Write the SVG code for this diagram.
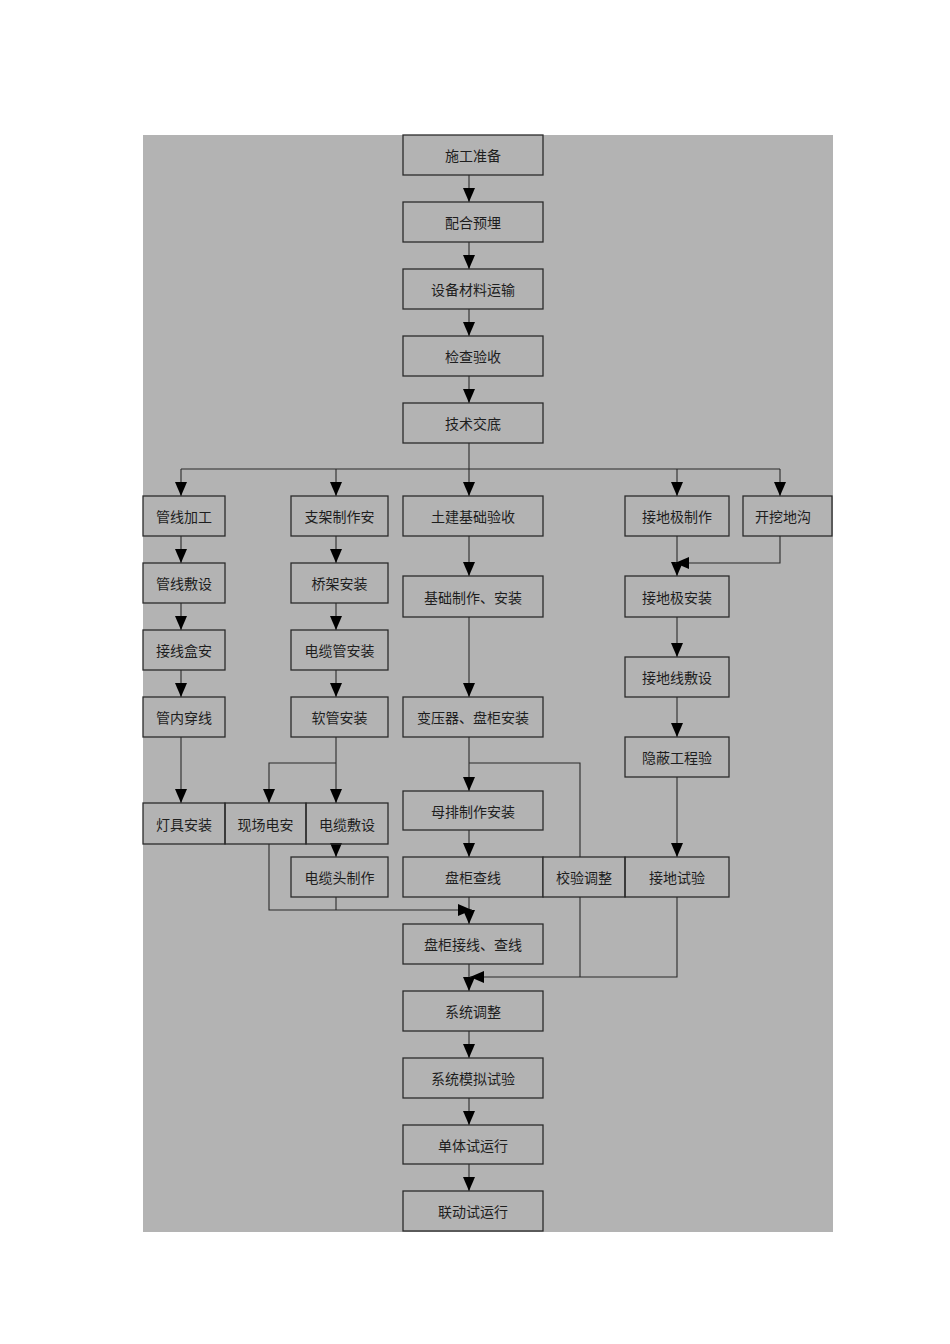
<svg xmlns="http://www.w3.org/2000/svg" width="950" height="1344" viewBox="0 0 950 1344">
<defs>
<marker id="arr" viewBox="0 0 14 12" refX="14" refY="6" markerWidth="14" markerHeight="12" markerUnits="userSpaceOnUse" orient="auto">
<path d="M0 0 L14 6 L0 12 Z" fill="#000"/>
</marker>
<style>
.b{fill:none;stroke:#2b2b2b;stroke-width:1.3}
.t{font-family:"Noto Sans CJK SC","Liberation Sans",sans-serif;font-size:14px;fill:#1e1e1e;text-anchor:middle;dominant-baseline:central}
.c path{fill:none;stroke:#2b2b2b;stroke-width:1.1}
.a{marker-end:url(#arr)}
</style>
</defs>
<rect x="0" y="0" width="950" height="1344" fill="#fff"/>
<rect x="143" y="135" width="690" height="1097" fill="#b3b3b3"/>
<g class="c" id="connectors">
<path class="a" d="M469 175V202"/>
<path class="a" d="M469 242V269"/>
<path class="a" d="M469 309V336"/>
<path class="a" d="M469 376V403"/>
<path d="M469 443V469M181 469H780"/>
<path class="a" d="M181 469V496"/>
<path class="a" d="M336 469V496"/>
<path class="a" d="M469 469V496"/>
<path class="a" d="M677 469V496"/>
<path class="a" d="M780 469V496"/>
<path class="a" d="M181 536V563"/>
<path class="a" d="M181 603V630"/>
<path class="a" d="M181 670V697"/>
<path class="a" d="M181 737V803"/>
<path class="a" d="M336 536V563"/>
<path class="a" d="M336 603V630"/>
<path class="a" d="M336 670V697"/>
<path class="a" d="M336 737V803"/>
<path class="a" d="M336 763H269V803"/>
<path class="a" d="M336 844V857"/>
<path class="a" d="M469 536V576"/>
<path class="a" d="M469 617V697"/>
<path class="a" d="M469 737V791"/>
<path d="M469 763H580V857"/>
<path class="a" d="M469 830V857"/>
<path class="a" d="M469 897V924"/>
<path class="a" d="M269 844V910H472"/>
<path d="M336 897V910"/>
<path class="a" d="M469 964V991"/>
<path d="M580 897V977"/>
<path class="a" d="M677 897V977H470"/>
<path class="a" d="M469 1031V1058"/>
<path class="a" d="M469 1098V1125"/>
<path class="a" d="M469 1164V1191"/>
<path class="a" d="M677 536V576"/>
<path class="a" d="M780 536V563H675"/>
<path class="a" d="M677 617V657"/>
<path class="a" d="M677 697V737"/>
<path class="a" d="M677 777V857"/>
</g>
<g id="n1"><rect class="b" x="403" y="135" width="140" height="40"/><text class="t" x="473" y="155">施工准备</text></g>
<g id="n2"><rect class="b" x="403" y="202" width="140" height="40"/><text class="t" x="473" y="222">配合预埋</text></g>
<g id="n3"><rect class="b" x="403" y="269" width="140" height="40"/><text class="t" x="473" y="289">设备材料运输</text></g>
<g id="n4"><rect class="b" x="403" y="336" width="140" height="40"/><text class="t" x="473" y="356">检查验收</text></g>
<g id="n5"><rect class="b" x="403" y="403" width="140" height="40"/><text class="t" x="473" y="423">技术交底</text></g>
<g id="n6"><rect class="b" x="143" y="496" width="82" height="40"/><text class="t" x="184" y="516">管线加工</text></g>
<g id="n7"><rect class="b" x="291" y="496" width="97" height="40"/><text class="t" x="339.5" y="516">支架制作安</text></g>
<g id="n8"><rect class="b" x="403" y="496" width="140" height="40"/><text class="t" x="473" y="516">土建基础验收</text></g>
<g id="n9"><rect class="b" x="625" y="496" width="104" height="40"/><text class="t" x="677" y="516">接地极制作</text></g>
<g id="n10"><rect class="b" x="743" y="496" width="89" height="40"/><text class="t" x="783" y="516">开挖地沟</text></g>
<g id="n11"><rect class="b" x="143" y="563" width="82" height="40"/><text class="t" x="184" y="583">管线敷设</text></g>
<g id="n12"><rect class="b" x="291" y="563" width="97" height="40"/><text class="t" x="339.5" y="583">桥架安装</text></g>
<g id="n13"><rect class="b" x="403" y="576" width="140" height="41"/><text class="t" x="473" y="596.5">基础制作、安装</text></g>
<g id="n14"><rect class="b" x="625" y="576" width="104" height="41"/><text class="t" x="677" y="596.5">接地极安装</text></g>
<g id="n15"><rect class="b" x="143" y="630" width="82" height="40"/><text class="t" x="184" y="650">接线盒安</text></g>
<g id="n16"><rect class="b" x="291" y="630" width="97" height="40"/><text class="t" x="339.5" y="650">电缆管安装</text></g>
<g id="n17"><rect class="b" x="625" y="657" width="104" height="40"/><text class="t" x="677" y="677">接地线敷设</text></g>
<g id="n18"><rect class="b" x="143" y="697" width="82" height="40"/><text class="t" x="184" y="717">管内穿线</text></g>
<g id="n19"><rect class="b" x="291" y="697" width="97" height="40"/><text class="t" x="339.5" y="717">软管安装</text></g>
<g id="n20"><rect class="b" x="403" y="697" width="140" height="40"/><text class="t" x="473" y="717">变压器、盘柜安装</text></g>
<g id="n21"><rect class="b" x="625" y="737" width="104" height="40"/><text class="t" x="677" y="757">隐蔽工程验</text></g>
<g id="n22"><rect class="b" x="143" y="803" width="82" height="41"/><text class="t" x="184" y="823.5">灯具安装</text></g>
<g id="n23"><rect class="b" x="225" y="803" width="81" height="41"/><text class="t" x="265.5" y="823.5">现场电安</text></g>
<g id="n24"><rect class="b" x="306" y="803" width="82" height="41"/><text class="t" x="347" y="823.5">电缆敷设</text></g>
<g id="n25"><rect class="b" x="403" y="791" width="140" height="39"/><text class="t" x="473" y="810.5">母排制作安装</text></g>
<g id="n26"><rect class="b" x="291" y="857" width="97" height="40"/><text class="t" x="339.5" y="877">电缆头制作</text></g>
<g id="n27"><rect class="b" x="403" y="857" width="140" height="40" style="fill:#b3b3b3"/><text class="t" x="473" y="877">盘柜查线</text></g>
<g id="n28"><rect class="b" x="543" y="857" width="82" height="40" style="fill:#b3b3b3"/><text class="t" x="584" y="877">校验调整</text></g>
<g id="n29"><rect class="b" x="625" y="857" width="104" height="40"/><text class="t" x="677" y="877">接地试验</text></g>
<g id="n30"><rect class="b" x="403" y="924" width="140" height="40"/><text class="t" x="473" y="944">盘柜接线、查线</text></g>
<g id="n31"><rect class="b" x="403" y="991" width="140" height="40"/><text class="t" x="473" y="1011">系统调整</text></g>
<g id="n32"><rect class="b" x="403" y="1058" width="140" height="40"/><text class="t" x="473" y="1078">系统模拟试验</text></g>
<g id="n33"><rect class="b" x="403" y="1125" width="140" height="39"/><text class="t" x="473" y="1144.5">单体试运行</text></g>
<g id="n34"><rect class="b" x="403" y="1191" width="140" height="40"/><text class="t" x="473" y="1211">联动试运行</text></g>
</svg>
